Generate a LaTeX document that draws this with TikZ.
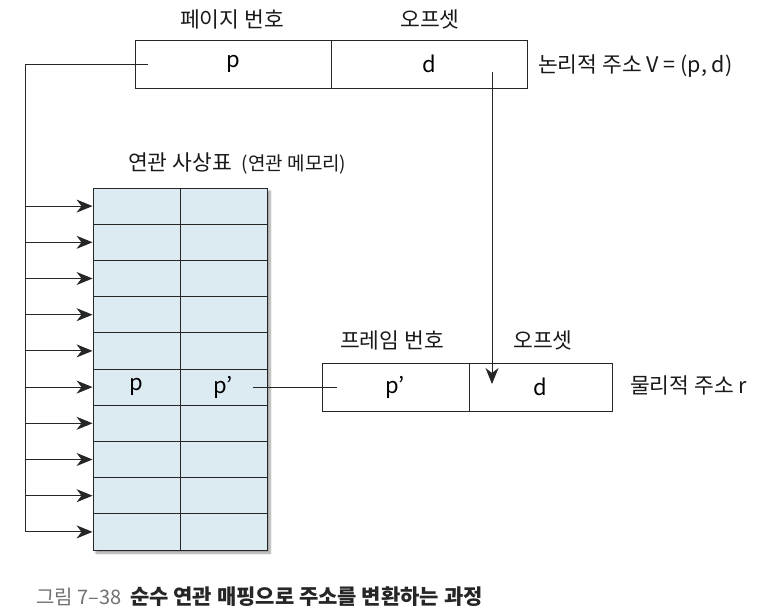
\documentclass[tikz,border=0pt]{standalone}
\usepackage{fontspec}
\setmainfont{Noto Sans CJK KR}
\usetikzlibrary{arrows.meta,shadows.blur}
\definecolor{ln}{HTML}{262626}
\definecolor{cellblue}{HTML}{DCEAF2}
\definecolor{capgray}{HTML}{707070}
\tikzset{
  lbl/.style={font=\fontsize{21.5}{24}\selectfont, text=black!90, inner sep=0pt},
  cell/.style={draw=ln, line width=0.9pt, rectangle, inner sep=0pt, font=\fontsize{22}{24}\selectfont},
  tcell/.style={draw=ln, line width=0.9pt, rectangle, inner sep=0pt, minimum width=87pt, minimum height=36.2pt},
  conn/.style={draw=ln, line width=1pt},
  arr/.style={conn, -{Stealth[length=16pt,width=13pt,inset=5pt]}},
}
\begin{document}
\begin{tikzpicture}[x=1pt,y=-1pt]
\useasboundingbox (0,0) rectangle (764,613);
% top logical address
\node[cell, minimum width=196pt, minimum height=48pt] (vp) at (233,64) {p};
\node[cell, minimum width=196pt, minimum height=48pt] (vd) at (429,64) {d};
\node[lbl] (lp) at (232,19) {페이지 번호};
\node[lbl] (ld) at (430,19) {오프셋};
\node[lbl, anchor=west] (lv) at (538,66) {논리적 주소 V = (p, d)};
% table
\fill[gray!45, blur shadow={shadow xshift=3pt, shadow yshift=-3pt, shadow blur steps=6}] (93,188) rectangle (267,550);
\fill[cellblue] (93,188) rectangle (267,550);
\foreach \i in {1,...,10}{
  \pgfmathsetmacro{\yy}{188+36.2*(\i-0.5)}
  \node[tcell] (l\i) at (136.5,\yy) {};
  \node[tcell] (r\i) at (223.5,\yy) {};
}
\node[font=\fontsize{22}{24}\selectfont, inner sep=0pt] (pp) at (l6) {p};
\node[font=\fontsize{22}{24}\selectfont, inner sep=0pt] (ppr) at (r6) {p'};
\node[lbl, anchor=west] (tt) at (128,163) {연관 사상표\hspace{10pt}\fontsize{19}{22}\selectfont(연관 메모리)};
% bus
\coordinate (ps) at (148,64);
\coordinate (b0) at (25,64);
\coordinate (b10) at (25,532);
\draw[conn] (ps) -- (b0) -- (b10);
\foreach \i in {1,...,10}{
  \draw[arr] (l\i.west -| b0) -- (l\i.west);
}
% physical address
\node[cell, minimum width=147pt, minimum height=48pt] (fp) at (395.5,387) {p'};
\node[cell, minimum width=143pt, minimum height=48pt] (fd) at (540.5,387) {d};
\node[lbl] (lf) at (392,340) {프레임 번호};
\node[lbl] (lo) at (543,340) {오프셋};
\node[lbl, anchor=west] (lr) at (630,385) {물리적 주소 r};
\coordinate (q1) at (253,387);
\coordinate (q2) at (337,387);
\draw[conn] (q1) -- (q2);
\coordinate (ds) at (492,72);
\coordinate (de) at (492,384);
\draw[arr] (ds) -- (de);
% caption
\node[anchor=west, inner sep=0pt, font=\fontsize{20}{24}\selectfont, text=capgray] (c1) at (36,597) {그림 7–38};
\node[anchor=west, inner sep=0pt, font=\fontsize{21}{24}\selectfont\bfseries, text=black!85] (c2) at (130,597) {순수 연관 매핑으로 주소를 변환하는 과정};
\end{tikzpicture}
\end{document}
